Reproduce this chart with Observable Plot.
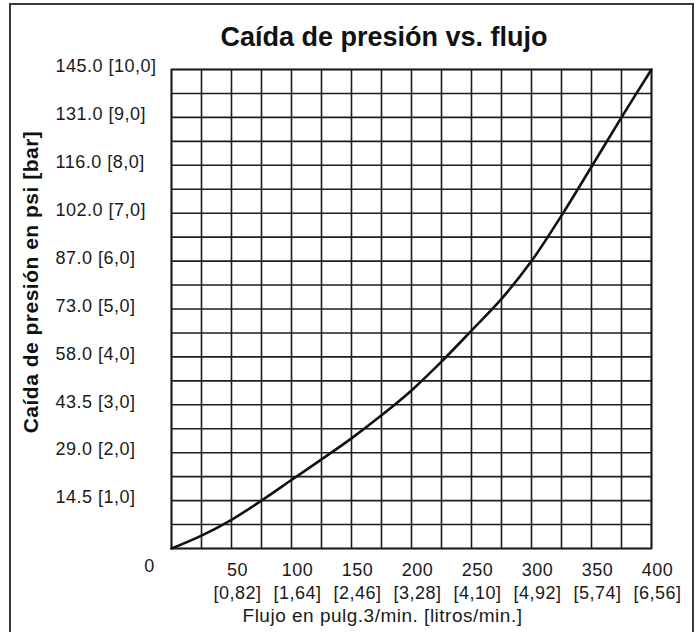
<!DOCTYPE html>
<html>
<head>
<meta charset="utf-8">
<script src="https://cdn.jsdelivr.net/npm/d3@7"></script>
<script src="https://cdn.jsdelivr.net/npm/@observablehq/plot@0.6"></script>
<style>
  html, body { margin: 0; padding: 0; background: #fff; }
  #chart {
    position: relative;
    width: 697px;
    height: 632px;
    overflow: hidden;
    font-family: "Liberation Sans", Arial, Helvetica, sans-serif;
  }
  #border {
    position: absolute;
    left: 9px;
    top: 3px;
    width: 681px;
    height: 660px;
    border: 2px solid #3a3a3a;
    pointer-events: none;
  }
  #title {
    position: absolute;
    left: 384px;
    top: 24px;
    transform: translateX(-50%);
    white-space: nowrap;
    font-size: 27px;
    font-weight: bold;
    color: #111;
    line-height: 1;
  }
  #chart svg { position: absolute; left: 0; top: 0; }
  #chart svg text { letter-spacing: 0.5px; }
</style>
</head>
<body>
<div id="chart">
  <div id="border"></div>
  <div id="title">Caída de presión vs. flujo</div>
</div>
<script>
// Flow (in³/min) and the pressure drop (bar)
const flow    = [0, 25, 50, 75, 100, 125, 150, 175, 200, 225, 250, 275, 300, 325, 350, 375, 400];
const dropBar = [0, 0.27, 0.6, 1.0, 1.43, 1.86, 2.3, 2.78, 3.3, 3.9, 4.55, 5.21, 6.0, 6.95, 7.97, 9.0, 10.0];

// Y axis: bar ticks with psi and bar labels
const barTicks  = [1, 2, 3, 4, 5, 6, 7, 8, 9, 10];
const psiLabels = ["14.5", "29.0", "43.5", "58.0", "73.0", "87.0", "102.0", "116.0", "131.0", "145.0"];
const barLabels = ["1,0", "2,0", "3,0", "4,0", "5,0", "6,0", "7,0", "8,0", "9,0", "10,0"];

// X axis: flow ticks with litre equivalents
const flowTicks    = [50, 100, 150, 200, 250, 300, 350, 400];
const litreLabels  = ["0,82", "1,64", "2,46", "3,28", "4,10", "4,92", "5,74", "6,56"];

const titleX = "Flujo en pulg.3/min. [litros/min.]";
const titleY = "Caída de presión en psi [bar]";

// Grid spacing: 25 in³/min columns, half-bar rows
const gridFlow = d3.range(0, 401, 25);
const gridBar  = d3.range(0, 10.01, 0.5);

const rows = flow.map((f, i) => ({flow: f, bar: dropBar[i]}));

const ink = "#1c1c1c";

const plot = Plot.plot({
  width: 697,
  height: 632,
  marginLeft: 171,
  marginRight: 46,
  marginTop: 69,
  marginBottom: 84,
  x: {domain: [0, 400]},
  y: {domain: [0, 10]},
  style: {
    fontFamily: '"Liberation Sans", Arial, Helvetica, sans-serif',
    fontSize: "18px",
    color: "#1a1a1a",
    background: "transparent"
  },
  marks: [
    Plot.gridX({ticks: gridFlow, stroke: ink, strokeOpacity: 1, strokeWidth: 1.6}),
    Plot.gridY({ticks: gridBar, stroke: ink, strokeOpacity: 1, strokeWidth: 1.6}),
    Plot.frame({stroke: ink, strokeWidth: 1.8}),
    Plot.line(rows, {x: "flow", y: "bar", curve: "catmull-rom", stroke: "#111", strokeWidth: 2.6}),
    Plot.axisY({
      ticks: barTicks,
      tickSize: 0,
      tickPadding: 0,
      textAnchor: "start",
      dx: -116,
      dy: -3,
      fontSize: 18,
      label: null,
      tickFormat: (d) => {
        const i = barTicks.indexOf(d);
        return `${psiLabels[i]} [${barLabels[i]}]`;
      }
    }),
    Plot.axisX({
      ticks: flowTicks,
      tickSize: 0,
      tickPadding: 11,
      dx: 6,
      fontSize: 18,
      lineHeight: 1.28,
      label: null,
      tickFormat: (d) => `${d}\n[${litreLabels[flowTicks.indexOf(d)]}]`
    }),
    Plot.axisX({
      ticks: [0],
      tickSize: 0,
      tickPadding: 11,
      dx: -22,
      fontSize: 18,
      label: null,
      tickFormat: (d) => `${d}`
    }),
    Plot.text([titleX], {frameAnchor: "bottom", textAnchor: "middle", lineAnchor: "middle", dx: -29, dy: 67, fontSize: 19, fill: "#1a1a1a"}),
    Plot.text([titleY], {frameAnchor: "left", textAnchor: "middle", lineAnchor: "middle", rotate: -90, dx: -140, dy: -27, fontSize: 21, fontWeight: "bold", fill: "#111"})
  ]
});

document.getElementById("chart").appendChild(plot);
</script>
</body>
</html>
